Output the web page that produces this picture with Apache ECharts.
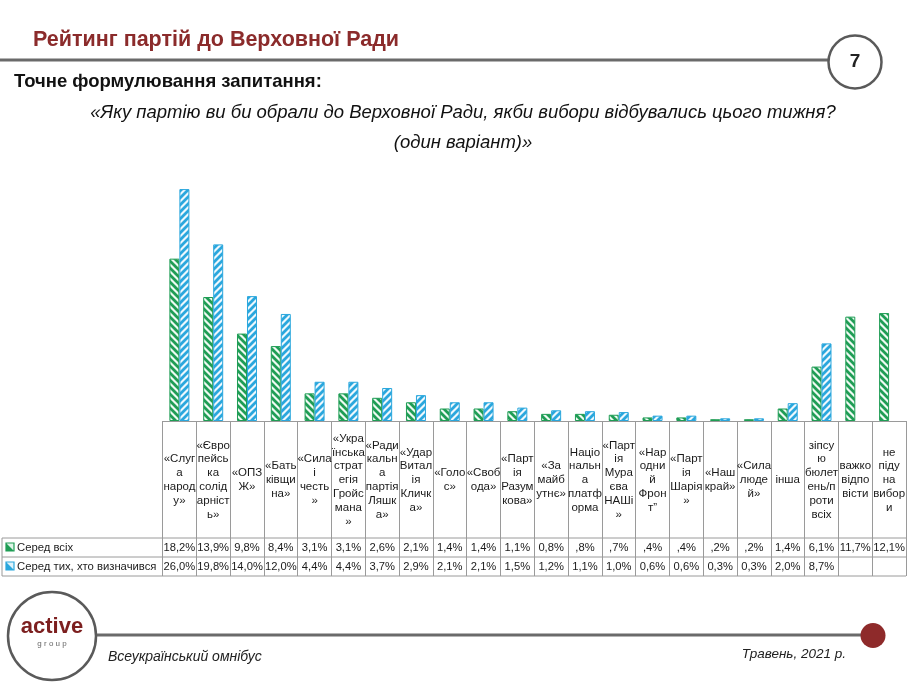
<!DOCTYPE html>
<html>
<head>
<meta charset="utf-8">
<script src="https://cdn.jsdelivr.net/npm/echarts@6/dist/echarts.min.js"></script>
<style>
html,body{margin:0;padding:0;background:#fff;}
#chart{width:919px;height:687px;}
</style>
</head>
<body>
<div id="chart"></div>
<script>
// ---- data ----
const categories = [
  '«Слуг\nа\nнарод\nу»',
  '«Євро\nпейсь\nка\nсолід\nарніст\nь»',
  '«ОПЗ\nЖ»',
  '«Бать\nківщи\nна»',
  '«Сила\nі\nчесть\n»',
  '«Укра\nїнська\nстрат\nегія\nГройс\nмана\n»',
  '«Ради\nкальн\nа\nпартія\nЛяшк\nа»',
  '«Удар\nВитал\nія\nКличк\nа»',
  '«Голо\nс»',
  '«Своб\nода»',
  '«Парт\nія\nРазум\nкова»',
  '«За\nмайб\nутнє»',
  'Націо\nнальн\nа\nплатф\nорма',
  '«Парт\nія\nМура\nєва\nНАШі\n»',
  '«Нар\nодни\nй\nФрон\nт”',
  '«Парт\nія\nШарія\n»',
  '«Наш\nкрай»',
  '«Сила\nлюде\nй»',
  'інша',
  'зіпсу\nю\nбюлет\nень/п\nроти\nвсіх',
  'важко\nвідпо\nвісти',
  'не\nпіду\nна\nвибор\nи'
];
const seriesNames = ['Серед всіх', 'Серед тих, хто визначився'];
const amongAll = [18.2, 13.9, 9.8, 8.4, 3.1, 3.1, 2.6, 2.1, 1.4, 1.4, 1.1, 0.8, 0.8, 0.7, 0.4, 0.4, 0.2, 0.2, 1.4, 6.1, 11.7, 12.1];
const amongDecided = [26.0, 19.8, 14.0, 12.0, 4.4, 4.4, 3.7, 2.9, 2.1, 2.1, 1.5, 1.2, 1.1, 1.0, 0.6, 0.6, 0.3, 0.3, 2.0, 8.7, null, null];
const tableAllLabels = ['18,2%','13,9%','9,8%','8,4%','3,1%','3,1%','2,6%','2,1%','1,4%','1,4%','1,1%','0,8%',',8%',',7%',',4%',',4%',',2%',',2%','1,4%','6,1%','11,7%','12,1%'];
const tableDecidedLabels = ['26,0%','19,8%','14,0%','12,0%','4,4%','4,4%','3,7%','2,9%','2,1%','2,1%','1,5%','1,2%','1,1%','1,0%','0,6%','0,6%','0,3%','0,3%','2,0%','8,7%','',''];

// ---- styles ----
const GREEN = '#1f9d55';
const BLUE = '#2aa7dd';
const GRID_LINE = '#9a9a9a';
const FONT = 'Liberation Sans';

function makePattern(color, bg, backslash) {
  const s = 7;
  const c = document.createElement('canvas');
  c.width = s; c.height = s;
  const ctx = c.getContext('2d');
  ctx.fillStyle = bg; ctx.fillRect(0, 0, s, s);
  ctx.strokeStyle = color; ctx.lineWidth = 2.8; ctx.lineCap = 'square';
  ctx.beginPath();
  for (let k = -1; k <= 1; k++) {
    if (backslash) { ctx.moveTo(k * s, 0); ctx.lineTo(k * s + s, s); }
    else { ctx.moveTo(k * s + s, 0); ctx.lineTo(k * s, s); }
  }
  ctx.stroke();
  return c;
}
const greenPat = makePattern(GREEN, '#eefaf3', true);
const bluePat = makePattern(BLUE, '#eef8fd', false);

const chart = echarts.init(document.getElementById('chart'), null, {renderer: 'canvas'});

const TL = 2, TR = 906;           // table left/right
const Y_HEAD = 421, Y_R1 = 538, Y_R2 = 557, Y_R3 = 576;

function hline(x1, x2, y, color, w) {
  return {type: 'line', silent: true, shape: {x1: x1, y1: y, x2: x2, y2: y}, style: {stroke: color, lineWidth: w}};
}
function vline(x, y1, y2, color, w) {
  return {type: 'line', silent: true, shape: {x1: x, y1: y1, x2: x, y2: y2}, style: {stroke: color, lineWidth: w}};
}
function marker(x, y, color, light) {
  return [
    {type: 'rect', silent: true, shape: {x: x, y: y, width: 8, height: 8}, style: {fill: light, stroke: color, lineWidth: 1.2}},
    {type: 'polygon', silent: true, shape: {points: [[x, y], [x, y + 8], [x + 8, y + 8]]}, style: {fill: color}}
  ];
}

const graphics = [
  // header
  {type: 'text', left: 33, top: 29, style: {text: 'Рейтинг партій до Верховної Ради', fill: '#8b2b2b', font: 'bold 21.5px ' + FONT}},
  hline(0, 829, 60, '#6a6a6a', 3),
  {type: 'circle', shape: {cx: 855, cy: 62, r: 26.5}, style: {fill: '#fff', stroke: '#5a5a5a', lineWidth: 2.5}},
  {type: 'text', x: 855, y: 62, style: {text: '7', fill: '#222', font: 'bold 19px ' + FONT, align: 'center', verticalAlign: 'middle'}},
  {type: 'text', x: 14, y: 82, style: {text: 'Точне формулювання запитання:', fill: '#111', font: 'bold 18.5px ' + FONT, verticalAlign: 'middle'}},
  {type: 'text', x: 463, y: 113, style: {text: '«Яку партію ви би обрали до Верховної Ради, якби вибори відбувались цього тижня?', fill: '#111', font: 'italic 18.5px ' + FONT, align: 'center', verticalAlign: 'middle'}},
  {type: 'text', x: 463, y: 143, style: {text: '(один варіант)»', fill: '#111', font: 'italic 18.5px ' + FONT, align: 'center', verticalAlign: 'middle'}},
  // table lines
  hline(TL, TR, Y_R1, GRID_LINE, 1),
  hline(TL, TR, Y_R2, GRID_LINE, 1),
  hline(TL, TR, Y_R3, GRID_LINE, 1),
  vline(TL, Y_R1, Y_R3, GRID_LINE, 1),
  // row labels
  ...marker(6, 543, GREEN, '#dff5e8'),
  ...marker(6, 562, BLUE, '#def2fb'),
  {type: 'text', x: 17, y: 547.5, style: {text: seriesNames[0], fill: '#222', font: '11.3px ' + FONT, verticalAlign: 'middle'}},
  {type: 'text', x: 17, y: 566.5, style: {text: seriesNames[1], fill: '#222', font: '11.3px ' + FONT, verticalAlign: 'middle'}},
  // footer
  hline(97, 872, 635, '#6a6a6a', 3),
  {type: 'circle', shape: {cx: 873, cy: 635.5, r: 12.5}, style: {fill: '#8e2a2a'}},
  {type: 'circle', shape: {cx: 52, cy: 636, r: 44}, style: {fill: '#fff', stroke: '#5a5a5a', lineWidth: 2.5}},
  {type: 'text', x: 52, y: 627, style: {text: 'active', fill: '#7c1f1f', font: 'bold 22px ' + FONT, align: 'center', verticalAlign: 'middle'}},
  {type: 'text', x: 52, y: 644, style: {text: 'g r o u p', fill: '#666', font: '8px ' + FONT, align: 'center', verticalAlign: 'middle'}},
  {type: 'text', x: 108, y: 657, style: {text: 'Всеукраїнський омнібус', fill: '#222', font: 'italic 14px ' + FONT, verticalAlign: 'middle'}},
  {type: 'text', x: 846, y: 654, style: {text: 'Травень, 2021 р.', fill: '#222', font: 'italic 13.5px ' + FONT, align: 'right', verticalAlign: 'middle'}}
];

const MAXV = 30;
const PX_PER = 8.92;
const gridTop = Y_HEAD - MAXV * PX_PER;

const option = {
  animation: false,
  backgroundColor: '#fff',
  grid: {left: 162.5, right: 919 - TR, top: gridTop, bottom: 687 - Y_HEAD, containLabel: false},
  xAxis: [
    {
      type: 'category', data: categories, position: 'bottom',
      axisLine: {show: true, lineStyle: {color: GRID_LINE, width: 1}},
      axisTick: {show: true, length: Y_R3 - Y_HEAD, interval: 0, lineStyle: {color: GRID_LINE, width: 1}},
      axisLabel: {interval: 0, margin: 480 - Y_HEAD, verticalAlign: 'middle', align: 'center',
        fontFamily: FONT, fontSize: 11.5, lineHeight: 13.8, color: '#1a1a1a'}
    },
    {
      type: 'category', data: categories, position: 'bottom',
      axisLine: {show: false}, axisTick: {show: false},
      axisLabel: {interval: 0, margin: 547.5 - Y_HEAD, verticalAlign: 'middle', align: 'center',
        fontFamily: FONT, fontSize: 11.2, color: '#1a1a1a',
        formatter: function (v, i) { return tableAllLabels[i]; }}
    },
    {
      type: 'category', data: categories, position: 'bottom',
      axisLine: {show: false}, axisTick: {show: false},
      axisLabel: {interval: 0, margin: 566.5 - Y_HEAD, verticalAlign: 'middle', align: 'center',
        fontFamily: FONT, fontSize: 11.2, color: '#1a1a1a',
        formatter: function (v, i) { return tableDecidedLabels[i]; }}
    }
  ],
  yAxis: {type: 'value', min: 0, max: MAXV, show: false, splitLine: {show: false}},
  series: [
    {
      name: seriesNames[0], type: 'bar', xAxisIndex: 0, data: amongAll,
      barWidth: 10, barGap: '0%',
      itemStyle: {color: {image: greenPat, repeat: 'repeat'}, borderColor: GREEN, borderWidth: 1}
    },
    {
      name: seriesNames[1], type: 'bar', xAxisIndex: 0, data: amongDecided,
      barWidth: 10, barGap: '0%',
      itemStyle: {color: {image: bluePat, repeat: 'repeat'}, borderColor: BLUE, borderWidth: 1}
    }
  ],
  graphic: graphics
};
chart.setOption(option);
</script>
</body>
</html>
